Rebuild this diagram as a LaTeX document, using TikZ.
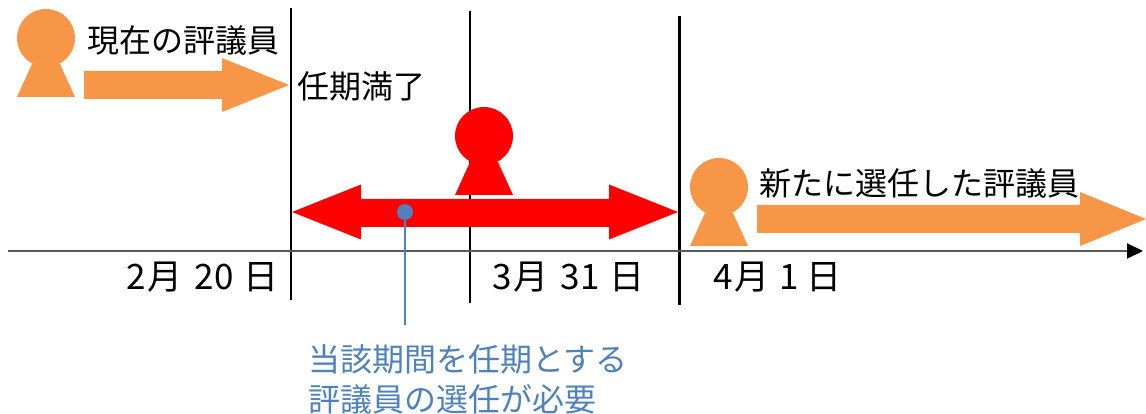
\documentclass[tikz,border=0pt]{standalone}
\usepackage{fontspec}
\setmainfont{Noto Sans CJK JP}
\usetikzlibrary{positioning,arrows.meta}

\definecolor{memberorange}{HTML}{F79646}
\definecolor{termred}{HTML}{FF0000}
\definecolor{noteblue}{HTML}{4F81BD}
\definecolor{axisgray}{HTML}{595959}

\tikzset{
  jptext/.style={inner sep=0pt, font=\fontsize{32}{40}\selectfont},
  datetext/.style={inner sep=0pt, font=\fontsize{35}{40}\selectfont},
  dayline/.style={draw=black, line width=2pt},
  timeaxis/.style={draw=axisgray, line width=2pt, -{Triangle[length=16pt,width=15pt,black]}}
}

\begin{document}
\begin{tikzpicture}[x=1pt,y=-1pt]
  \useasboundingbox (0,0) rectangle (1146,414);

% Stichtage
  \draw[dayline] (291,8) -- (291,300);
  \draw[dayline, line width=1.6pt] (470,11) -- (470,303);
  \draw[dayline, line width=3pt] (679,16) -- (679,305);

% Zeitachse
  \coordinate (axstart) at (8,251);
  \coordinate (axend) at (1143,251);
  \draw[timeaxis] (axstart) -- (axend);

% Personen: Kopf und Rumpf
  \foreach \px/\py/\pc in {46/38/memberorange, 484/136/termred, 719/187/memberorange}{
    \fill[\pc] (\px,\py) circle (29pt);
    \fill[\pc] (\px-14,\py+26) -- (\px+14,\py+26) -- (\px+29,\py+59) -- (\px-29,\py+59) -- cycle;
  }

% Pfeile
  \fill[memberorange] (84,71) -- (222,71) -- (222,58) -- (289,85) -- (222,112) -- (222,99) -- (84,99) -- cycle;
  \fill[memberorange] (757,205) -- (1080,205) -- (1080,192) -- (1146,219) -- (1080,246) -- (1080,233) -- (757,233) -- cycle;
  \fill[termred] (292,212) -- (361,184.5) -- (361,199) -- (609,199) -- (609,184.5) -- (678,212)
    -- (609,239.5) -- (609,227) -- (361,227) -- (361,239.5) -- cycle;

% Beschriftungen
  \node[jptext, anchor=west] (current) at (87,40) {現在の評議員};
  \node[jptext, anchor=west] (expiry) at (297,86) {任期満了};
  \node[jptext, anchor=west] (newmember) at (759,183) {新たに選任した評議員};
  \node[datetext, anchor=east] (feb) at (279,277) {2\hspace{2pt}月\hspace{12pt}20\hspace{10pt}日};
  \node[datetext, anchor=west] (mar) at (492,277) {3\hspace{2pt}月\hspace{12pt}31\hspace{10pt}日};
  \node[datetext, anchor=west] (apr) at (713,277) {4\hspace{2pt}月\hspace{10pt}1\hspace{7pt}日};

% Hinweis zum Zeitraum
  \node[circle, fill=noteblue, inner sep=0pt, minimum size=16pt] (dot) at (405,212) {};
  \coordinate (leadend) at (405,325);
  \draw[noteblue, line width=2pt] (dot) -- (leadend);
  \node[jptext, text=noteblue, anchor=north west, align=left] (note) at (308,344)
    {当該期間を任期とする\\評議員の選任が必要};
\end{tikzpicture}
\end{document}
